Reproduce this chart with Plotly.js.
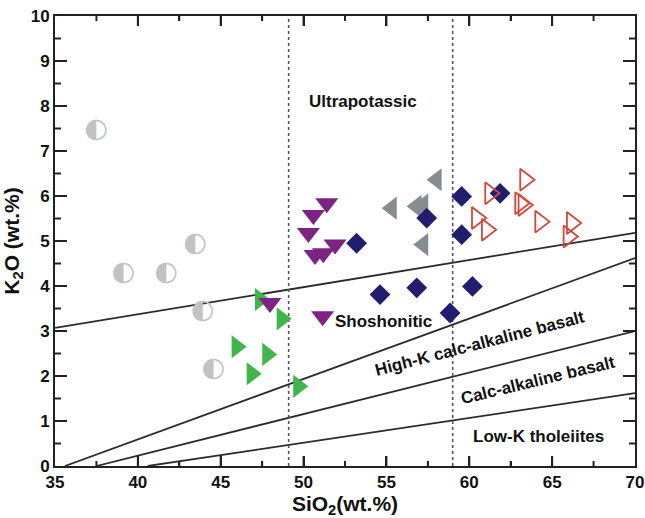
<!DOCTYPE html>
<html>
<head>
<meta charset="utf-8">
<script src="https://cdn.plot.ly/plotly-3.0.1.min.js"></script>
<style>html,body{margin:0;padding:0;background:#fff;}#chart{width:645px;height:518px;}</style>
</head>
<body>
<div id="chart"></div>
<script>
// Sample groups (SiO2, K2O in wt.%)
const circleSiO2 = [37.47, 43.45, 39.12, 41.70, 43.91, 44.55];
const circleK2O  = [7.47, 4.92, 4.29, 4.29, 3.44, 2.14];

const greenSiO2 = [47.37, 48.68, 45.96, 47.81, 46.87, 49.68];
const greenK2O  = [3.70, 3.27, 2.65, 2.48, 2.05, 1.77];

const purpleSiO2 = [51.40, 50.59, 50.29, 51.90, 50.69, 51.19, 47.97, 51.15];
const purpleK2O  = [5.84, 5.58, 5.18, 4.92, 4.69, 4.73, 3.62, 3.33];

const grayTriSiO2 = [58.03, 55.32, 56.82, 57.22, 57.22];
const grayTriK2O  = [6.36, 5.73, 5.77, 5.80, 4.92];

const diamondSiO2 = [53.2, 57.43, 54.61, 56.83, 58.84, 59.54, 59.54, 61.86, 60.19];
const diamondK2O  = [4.95, 5.51, 3.81, 3.96, 3.40, 5.99, 5.14, 6.06, 3.99];

const redSiO2 = [63.36, 61.25, 63.06, 63.26, 60.45, 61.05, 64.27, 66.18, 65.98];
const redK2O  = [6.36, 6.06, 5.84, 5.80, 5.51, 5.25, 5.43, 5.40, 5.10];

// Field boundaries
const shoshSiO2 = [35, 70];   const shoshK2O = [3.07, 5.18];
const hkcaSiO2  = [35.6, 70]; const hkcaK2O  = [0, 4.62];
const caSiO2    = [37.5, 70]; const caK2O    = [0, 3.0];
const lowkSiO2  = [40.6, 70]; const lowkK2O  = [0, 1.62];
const divSiO2 = [49.1, 59.0];
const divK2O  = [0, 10];

// Axis ticks
const xMajorTicks = [40, 45, 50, 55, 60, 65];
const xMinorTicks = [37.5, 42.5, 47.5, 52.5, 57.5, 62.5, 67.5];
const yMajorTicks = [1, 2, 3, 4, 5, 6, 7, 8, 9];
const yMinorTicks = [0.5, 1.5, 2.5, 3.5, 4.5, 5.5, 6.5, 7.5, 8.5, 9.5];

// Field labels
const labelText  = ["Ultrapotassic", "Shoshonitic", "High-K calc-alkaline basalt", "Calc-alkaline basalt", "Low-K tholeiites"];
const labelSiO2  = [53.6, 54.8, 60.65, 64.12, 64.17];
const labelK2O   = [8.1, 3.21, 2.72, 1.90, 0.66];
const labelAngle = [0, 0, -14.5, -13.6, 0];

const FONT = 'Liberation Sans, Arial, sans-serif';
const lineStyle = {color: '#2b2b2b', width: 1.8};
const traces = [];
[[shoshSiO2, shoshK2O], [hkcaSiO2, hkcaK2O], [caSiO2, caK2O], [lowkSiO2, lowkK2O]].forEach(function (p) {
  traces.push({x: p[0], y: p[1], mode: 'lines', line: lineStyle, hoverinfo: 'skip', showlegend: false});
});
divSiO2.forEach(function (v) {
  traces.push({x: [v, v], y: divK2O, mode: 'lines', line: {color: '#555', width: 1.6, dash: 'dot'}, hoverinfo: 'skip', showlegend: false});
});

traces.push({x: circleSiO2, y: circleK2O, mode: 'text', text: circleSiO2.map(function(){return '\u25D0';}),
  textposition: 'middle center', textfont: {family: 'DejaVu Sans', size: 27, color: '#c2c2c2'}, showlegend: false});
traces.push({x: greenSiO2, y: greenK2O, mode: 'markers', marker: {symbol: 'triangle-right', size: 20, color: '#3fb54b'}, showlegend: false});
traces.push({x: purpleSiO2, y: purpleK2O, mode: 'markers', marker: {symbol: 'triangle-down', size: 20, color: '#7c2383'}, showlegend: false});
traces.push({x: grayTriSiO2, y: grayTriK2O, mode: 'markers', marker: {symbol: 'triangle-left', size: 20, color: '#858d91'}, showlegend: false});
traces.push({x: diamondSiO2, y: diamondK2O, mode: 'markers', marker: {symbol: 'diamond', size: 16, color: '#221d6f'}, showlegend: false});
traces.push({x: redSiO2, y: redK2O, mode: 'markers', marker: {symbol: 'triangle-right-open', size: 19, color: '#d2483e', line: {width: 1.8, color: '#d2483e'}}, showlegend: false});

const annotations = labelText.map(function (t, i) {
  return {x: labelSiO2[i], y: labelK2O[i], text: t, showarrow: false, textangle: labelAngle[i],
    font: {family: FONT, size: 17, color: '#111', weight: 'bold'},
    xanchor: 'center', yanchor: 'middle'};
});

// Tick marks on all four sides (inside), as fallback shapes built from the tick arrays
const XMAJ = 0.0222, XMIN = 0.0111, YMAJ = 0.0207, YMIN = 0.0103;
const tickLine = {color: '#222', width: 2};
const shapes = [];
function addX(vals, len) {
  vals.forEach(function (v) {
    shapes.push({type: 'line', xref: 'x', yref: 'paper', x0: v, x1: v, y0: 0, y1: len, line: tickLine, layer: 'above'});
    shapes.push({type: 'line', xref: 'x', yref: 'paper', x0: v, x1: v, y0: 1, y1: 1 - len, line: tickLine, layer: 'above'});
  });
}
function addY(vals, len) {
  vals.forEach(function (v) {
    shapes.push({type: 'line', xref: 'paper', yref: 'y', y0: v, y1: v, x0: 0, x1: len, line: tickLine, layer: 'above'});
    shapes.push({type: 'line', xref: 'paper', yref: 'y', y0: v, y1: v, x0: 1, x1: 1 - len, line: tickLine, layer: 'above'});
  });
}
addX(xMajorTicks, XMAJ); addX(xMinorTicks, XMIN);
addY(yMajorTicks, YMAJ); addY(yMinorTicks, YMIN);

const axisCommon = {
  showline: true, linecolor: '#222', linewidth: 2, mirror: 'allticks', layer: 'above traces',
  ticks: 'inside', tickcolor: '#222', tickwidth: 2, ticklen: 12,
  showgrid: false, zeroline: false,
  tickfont: {family: FONT, size: 17, color: '#111', weight: 'bold'}
};

const layout = {
  width: 645, height: 518,
  margin: {l: 55, r: 10, t: 16, b: 52},
  xaxis: Object.assign({}, axisCommon, {
    range: [35, 70], dtick: 5, tick0: 35, ticklen: 10,
    minor: {dtick: 2.5, ticks: 'inside', ticklen: 5, tickwidth: 1.8, tickcolor: '#222'},
    title: {text: 'SiO<sub>2</sub>(wt.%)', standoff: 8, font: {family: FONT, size: 21, color: '#111', weight: 'bold'}}
  }),
  yaxis: Object.assign({}, axisCommon, {
    range: [0, 10], dtick: 1, tick0: 0,
    minor: {dtick: 0.5, ticks: 'inside', ticklen: 6, tickwidth: 1.8, tickcolor: '#222'},
    title: {text: 'K<sub>2</sub>O (wt.%)', standoff: 6, font: {family: FONT, size: 21, color: '#111', weight: 'bold'}}
  }),
  annotations: annotations,
  shapes: shapes,
  showlegend: false
};

Plotly.newPlot('chart', traces, layout, {displayModeBar: false, staticPlot: true});
</script>
</body>
</html>
